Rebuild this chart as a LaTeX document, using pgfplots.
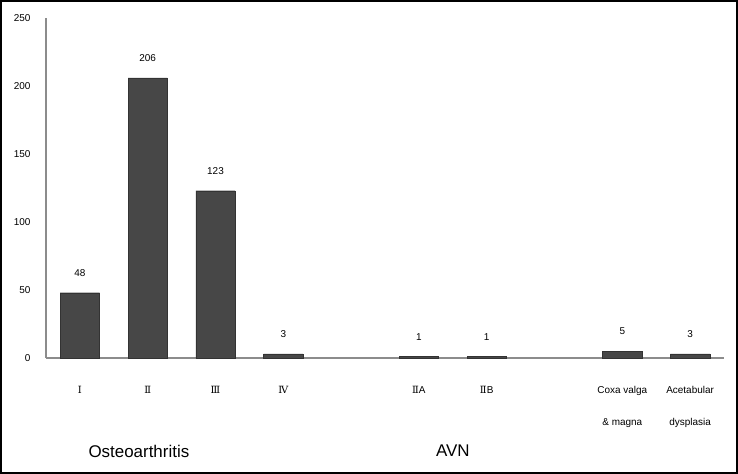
\documentclass[border=0pt]{standalone}
\usepackage{pgfplots}
\pgfplotsset{compat=1.18}
\usepackage{fontspec}
\setmainfont{Liberation Sans}
\newfontfamily\romfont{DejaVu Serif}
\definecolor{barfill}{HTML}{474747}
\definecolor{barline}{HTML}{333333}
\definecolor{axgray}{HTML}{8C8C8C}
\begin{document}
\begin{tikzpicture}
\useasboundingbox (0,0) rectangle (738bp,474bp);
\fill[white] (0,0) rectangle (738bp,474bp);
\begin{axis}[
  at={(46bp,116bp)}, anchor=south west,
  scale only axis, width=678bp, height=340bp,
  xmin=-0.5, xmax=9.5, ymin=0, ymax=250,
  axis x line=bottom, axis y line=left,
  axis line style={-, axgray, line width=1.2bp},
  /pgf/number format/assume math mode=true,
  ytick={0,50,100,150,200,250},
  xtick={0,1,2,3,5,6,8,9},
  xticklabels={{\romfont Ⅰ},{\romfont Ⅱ},{\romfont Ⅲ},{\romfont Ⅳ},{\romfont Ⅱ}A,{\romfont Ⅱ}B,{Coxa valga\\\& magna},{Acetabular\\dysplasia}},
  major tick length=0pt,
  tick label style={font={\fontsize{10}{32}\selectfont}},
  xticklabel style={align=center, anchor=north, yshift=-25bp},
  yticklabel style={xshift=-12bp},
  clip=false,
  ybar, bar width=0.58,
  nodes near coords,
  every node near coord/.append style={font=\fontsize{10}{12}\selectfont, yshift=13bp, black},
]
\addplot[fill=barfill, draw=barline] coordinates {
 (0,48) (1,206) (2,123) (3,3) (5,1) (6,1) (8,5) (9,3)
};
\node[font=\fontsize{17}{20}\selectfont] at (axis cs:0.87,-69) {Osteoarthritis};
\node[font=\fontsize{17}{20}\selectfont] at (axis cs:5.5,-68) {AVN};
\end{axis}
\draw[black, line width=1.6bp] (0.8bp,0.8bp) rectangle (737.2bp,473.2bp);
\end{tikzpicture}
\end{document}
